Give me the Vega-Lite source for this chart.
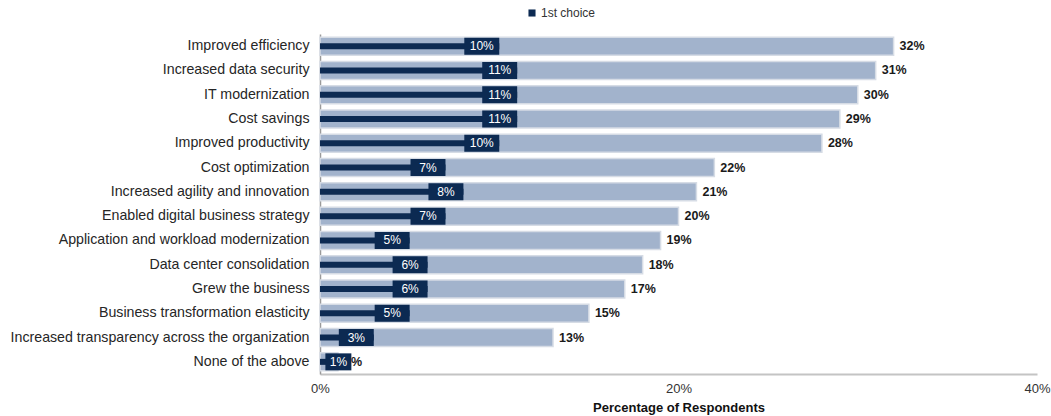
{
  "$schema": "https://vega.github.io/schema/vega-lite/v6.json",
  "description": "Horizontal bars: share of respondents, 1st choice vs total",
  "background": "white",
  "autosize": "none",
  "padding": {"left": 320, "top": 34, "right": 14, "bottom": 42},
  "width": 717,
  "height": 340,
  "data": {
    "values": [
      {"reason": "Improved efficiency", "first": 10, "total": 32},
      {"reason": "Increased data security", "first": 11, "total": 31},
      {"reason": "IT modernization", "first": 11, "total": 30},
      {"reason": "Cost savings", "first": 11, "total": 29},
      {"reason": "Improved productivity", "first": 10, "total": 28},
      {"reason": "Cost optimization", "first": 7, "total": 22},
      {"reason": "Increased agility and innovation", "first": 8, "total": 21},
      {"reason": "Enabled digital business strategy", "first": 7, "total": 20},
      {"reason": "Application and workload modernization", "first": 5, "total": 19},
      {"reason": "Data center consolidation", "first": 6, "total": 18},
      {"reason": "Grew the business", "first": 6, "total": 17},
      {"reason": "Business transformation elasticity", "first": 5, "total": 15},
      {"reason": "Increased transparency across the organization", "first": 3, "total": 13},
      {"reason": "None of the above", "first": 1, "total": 1}
    ]
  },
  "transform": [
    {"calculate": "max(0.3, datum.first - 1.95)", "as": "boxStart"},
    {"calculate": "max(datum.first, 1.75)", "as": "boxEnd"},
    {"calculate": "(datum.boxStart + datum.boxEnd) / 2", "as": "boxMid"},
    {"calculate": "datum.first + '%'", "as": "firstLabel"},
    {"calculate": "datum.total + '%'", "as": "totalLabel"}
  ],
  "encoding": {
    "y": {
      "field": "reason",
      "type": "nominal",
      "sort": null,
      "title": null,
      "axis": {
        "labelFont": "Liberation Sans",
        "labelFontSize": 14.2,
        "labelColor": "#262626",
        "labelPadding": 11,
        "labelLimit": 400,
        "ticks": false,
        "domainColor": "#9a9a9a",
        "domainWidth": 1.5
      }
    }
  },
  "layer": [
    {
      "mark": {"type": "bar", "color": "#a2b3cc", "stroke": "#d6dce5", "strokeWidth": 1.5, "size": 18},
      "encoding": {
        "x": {
          "field": "total",
          "type": "quantitative",
          "scale": {"domain": [0, 40]},
          "title": "Percentage of Respondents",
          "axis": {
            "values": [0, 20, 40],
            "labelExpr": "datum.value + '%'",
            "labelFlush": false,
            "grid": false,
            "ticks": false,
            "labelFont": "Liberation Sans",
            "labelFontSize": 13,
            "labelColor": "#333333",
            "labelPadding": 8,
            "domainColor": "#c4c4c4",
            "domainWidth": 2,
            "titleFont": "Liberation Sans",
            "titleFontSize": 13,
            "titleFontWeight": "bold",
            "titleColor": "#111111",
            "titlePadding": 6
          }
        }
      }
    },
    {
      "mark": {"type": "text", "align": "left", "baseline": "middle", "dx": 6, "font": "Liberation Sans", "fontSize": 12.5, "fontWeight": "bold", "color": "#1a1a1a"},
      "encoding": {
        "x": {"field": "total", "type": "quantitative"},
        "text": {"field": "totalLabel"}
      }
    },
    {
      "mark": {"type": "bar", "size": 6},
      "encoding": {
        "x": {"field": "first", "type": "quantitative"},
        "color": {
          "datum": "1st choice",
          "type": "nominal",
          "scale": {"range": ["#0c2a52"]},
          "legend": {
            "title": null,
            "orient": "none",
            "legendX": 206,
            "legendY": -27,
            "symbolType": "square",
            "symbolSize": 50,
            "labelFont": "Liberation Sans",
            "labelFontSize": 12,
            "labelColor": "#333333",
            "labelOffset": 3
          }
        }
      }
    },
    {
      "mark": {"type": "bar", "color": "#0c2a52", "size": 17},
      "encoding": {
        "x": {"field": "boxStart", "type": "quantitative"},
        "x2": {"field": "boxEnd"}
      }
    },
    {
      "mark": {"type": "text", "align": "center", "baseline": "middle", "font": "Liberation Sans", "fontSize": 12, "color": "white"},
      "encoding": {
        "x": {"field": "boxMid", "type": "quantitative"},
        "text": {"field": "firstLabel"}
      }
    }
  ],
  "config": {
    "view": {"stroke": null}
  }
}
